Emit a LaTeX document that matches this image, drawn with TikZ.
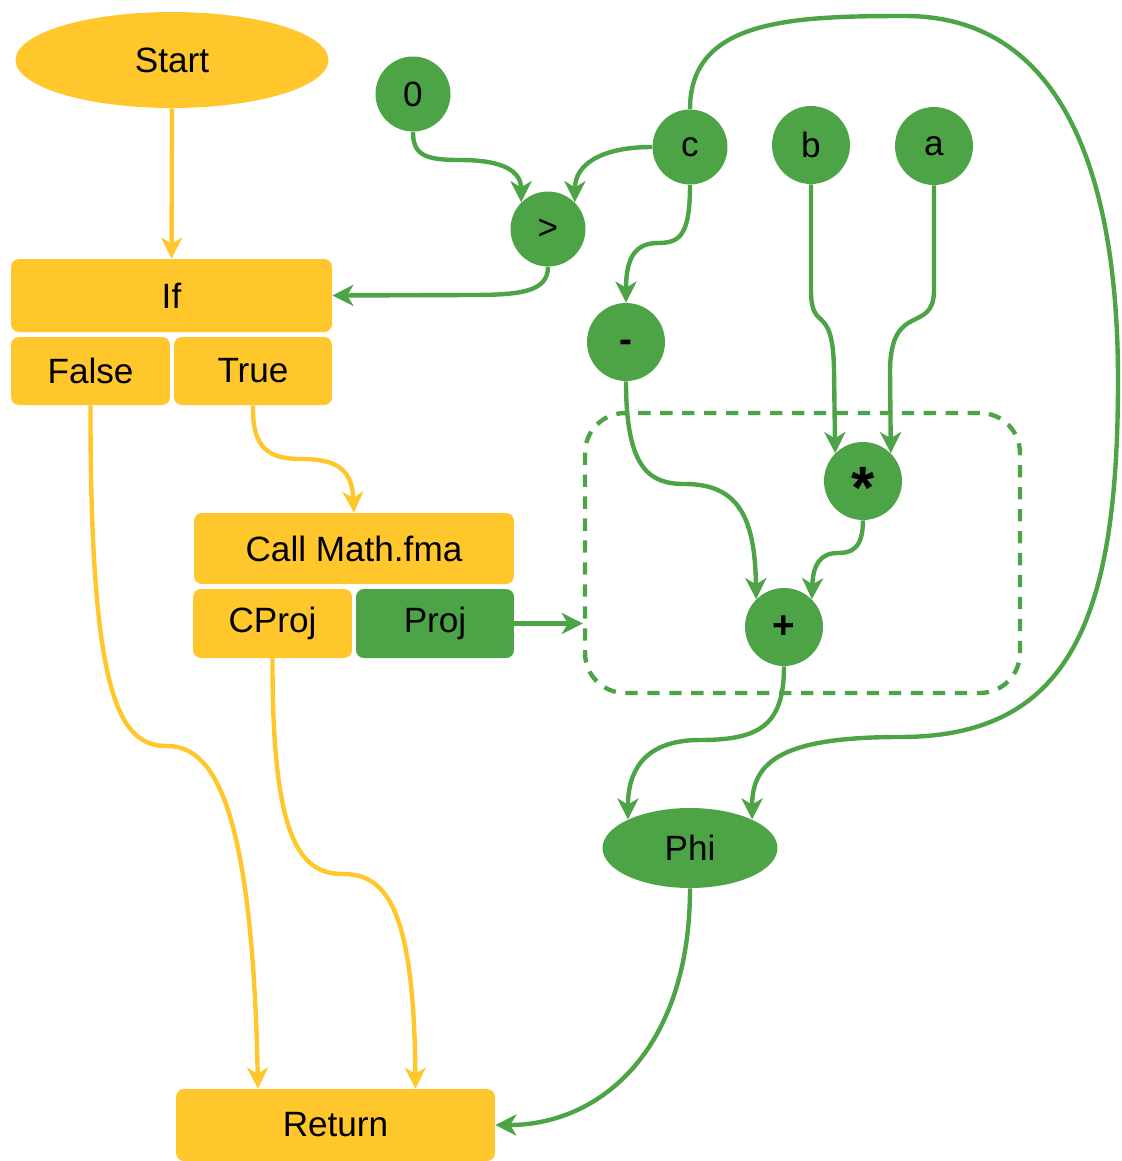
\documentclass[tikz,border=0pt]{standalone}
\usepackage{fontspec}
\setmainfont{Liberation Sans}
\usepackage{tikz}
\usetikzlibrary{arrows.meta, shapes.geometric}
\definecolor{ctrlyellow}{HTML}{FFC72C}
\definecolor{datagreen}{HTML}{4DA447}

\begin{document}
\begin{tikzpicture}[x=0.02cm, y=-0.02cm,
	every node/.style={font=\fontsize{20}{24}\selectfont, text=black, inner sep=0pt},
	ctrlbox/.style={rectangle, rounded corners=4.5pt, fill=ctrlyellow},
	databox/.style={rectangle, rounded corners=4.5pt, fill=datagreen},
	val/.style={circle, fill=datagreen, minimum size=1.5cm},
	op/.style={circle, fill=datagreen, minimum size=1.56cm, font=\fontsize{22}{24}\selectfont\bfseries},
	ctrlflow/.style={draw=ctrlyellow, line width=2.5pt, -{Stealth[length=12pt, width=12pt, inset=3.5pt]}},
	dataflow/.style={draw=datagreen, line width=2.5pt, -{Stealth[length=12pt, width=12pt, inset=3.5pt]}}]

\useasboundingbox (0,0) rectangle (1122,1161);

% control side
\node[ellipse, fill=ctrlyellow, minimum width=6.26cm, minimum height=1.92cm] (start) at (172, 60) {Start};
\node[ctrlbox, minimum width=6.42cm, minimum height=1.46cm] (if) at (171.5, 295.5) {If};
\node[ctrlbox, minimum width=3.18cm, minimum height=1.36cm] (false) at (90.5, 371) {False};
\node[ctrlbox, minimum width=3.16cm, minimum height=1.36cm] (true) at (253, 371) {True};
\node[ctrlbox, minimum width=6.4cm, minimum height=1.42cm] (call) at (354, 548.5) {Call Math.fma};
\node[ctrlbox, minimum width=3.18cm, minimum height=1.38cm] (cproj) at (272.5, 623.5) {CProj};
\node[databox, minimum width=3.16cm, minimum height=1.38cm] (proj) at (435, 623.5) {Proj};
\node[ctrlbox, minimum width=6.38cm, minimum height=1.44cm] (ret) at (335.5, 1125) {Return};

% data side
\node[draw=datagreen, line width=2.5pt, dash pattern=on 7pt off 5.5pt, rounded corners=0.8cm,
	minimum width=8.7cm, minimum height=5.6cm] (region) at (802.5, 553) {}; % fma region
\node[val] (zero) at (413, 94) {0};
\node[val] (c) at (690, 147) {c};
\node[val, minimum size=1.56cm] (b) at (811, 145) {b};
\node[val, minimum size=1.56cm] (a) at (934, 146) {a};
\node[val] (gt) at (548, 229) {>};
\node[op] (minus) at (626, 342) {\smash{\raisebox{-0.28em}{-}}};
\node[op] (mul) at (863, 481) {\fontsize{34}{34}\selectfont\smash{\raisebox{-0.46em}{*}}};
\node[op] (plus) at (784, 627) {+};
\node[ellipse, fill=datagreen, minimum width=3.5cm, minimum height=1.6cm] (phi) at (690, 848) {Phi};

% control edges
\draw[ctrlflow] (start) -- (if);
\draw[ctrlflow] (true.south) .. controls (252,450) and (270,459) .. (302,459)
	.. controls (340,459) and (352,472) .. (call.north);
\draw[ctrlflow] (false.south) .. controls (90,700) and (120,746) .. (167,746)
	.. controls (212,746) and (252,800) .. ([xshift=-1.55cm]ret.north);
\draw[ctrlflow] (cproj.south) .. controls (272,840) and (300,874) .. (343,874)
	.. controls (387,874) and (414,910) .. ([xshift=1.6cm]ret.north);

% data edges
\draw[dataflow] (zero.south) .. controls (413,155) and (425,160) .. (460,160)
	.. controls (505,160) and (521,172) .. (gt.north west);
\draw[dataflow] (c.west) .. controls (600,147) and (575,165) .. (gt.north east);
\draw[dataflow] (gt.south) .. controls (548,292) and (520,295) .. (470,295) -- (if.east);
\draw[dataflow] (c.south) .. controls (690,235) and (680,243) .. (658,243)
	.. controls (635,243) and (626,258) .. (minus.north);
\draw[dataflow] (b.south) -- (811,290) .. controls (811,335) and (833,300) .. (834,370) -- (mul.north west);
\draw[dataflow] (a.south) -- (934,290) .. controls (934,335) and (891,300) .. (890,370) -- (mul.north east);
\draw[dataflow] (minus.south) .. controls (626,470) and (650,484) .. (685,484)
	.. controls (740,484) and (755,520) .. (plus.north west);
\draw[dataflow] (mul.south) .. controls (863,550) and (850,553) .. (838,553)
	.. controls (820,553) and (813,565) .. (plus.north east);
\draw[dataflow] (proj.east) -- (proj.east -| region.west);
\draw[dataflow] (plus.south) .. controls (784,725) and (760,740) .. (700,740)
	.. controls (645,740) and (628,770) .. (phi.north west);
\draw[dataflow] (c.north) .. controls (690,20) and (790,16) .. (905,16)
	.. controls (1060,16) and (1118,170) .. (1118,380)
	.. controls (1118,620) and (1070,737) .. (900,737)
	.. controls (785,737) and (752,760) .. (phi.north east); % loop back
\draw[dataflow] (phi.south) .. controls (690,1050) and (600,1125) .. (ret.east);

\end{tikzpicture}
\end{document}
